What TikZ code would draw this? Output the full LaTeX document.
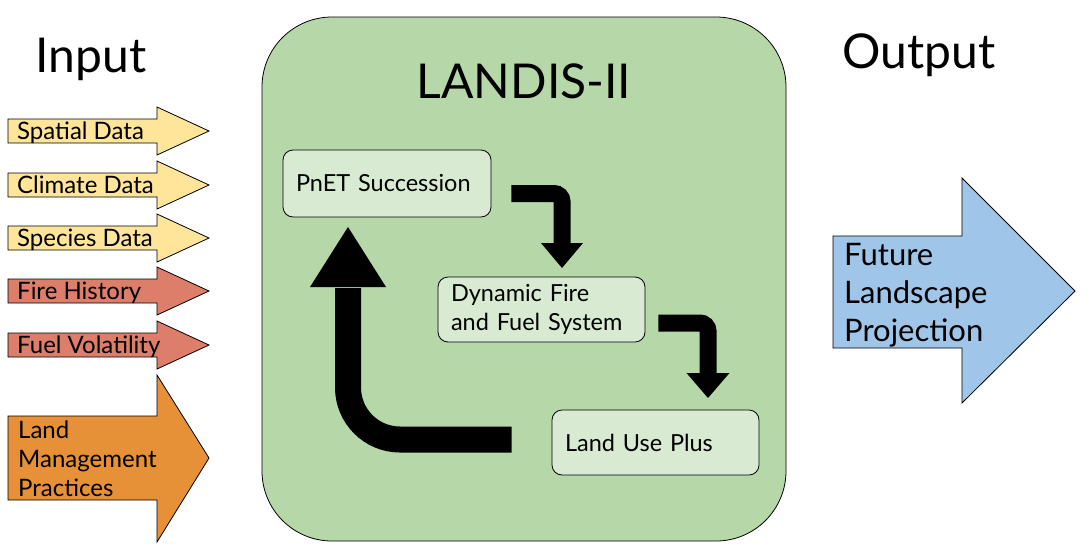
\documentclass[tikz,border=0pt]{standalone}
\usepackage{fontspec}
\setmainfont{Lato}
\usetikzlibrary{positioning}
\definecolor{datayellow}{HTML}{FFE599}
\definecolor{firered}{HTML}{DD7E6B}
\definecolor{mgmtorange}{HTML}{E69138}
\definecolor{outblue}{HTML}{9FC5E8}
\definecolor{modelgreen}{HTML}{B6D7A8}
\definecolor{boxgreen}{HTML}{D9EAD3}
\tikzset{
  title/.style={font=\fontsize{48}{58}\selectfont, inner sep=0pt},
  shaft/.style={draw=black, line width=0.8pt, line join=miter},
  inlabel/.style={font=\fontsize{24}{29}\selectfont, inner sep=0pt, align=left},
  module/.style={
    draw=black, line width=0.8pt, fill=boxgreen, rounded corners=10pt,
    minimum height=65pt, inner xsep=13pt,
    font=\fontsize{23.5}{29}\selectfont, align=left
  },
  flow/.style={line width=17pt, rounded corners=8pt},
}

\begin{document}
\begin{tikzpicture}[x=1pt,y=-1pt]
\newcommand{\inarrow}[4]{
  \filldraw [shaft,fill=#3] (8,#2-12) -- (157,#2-12) -- (157,#2-24) -- (209,#2)
    -- (157,#2+24) -- (157,#2+12) -- (8,#2+12) -- cycle;
  \node [inlabel,anchor=base west] (#1) at (17,#2+8) {#4};
}
\newcommand{\headdown}[3]{
  \fill (#1-#3,#2) -- (#1+#3,#2) -- (#1,#2+25) -- cycle;
}
\useasboundingbox (0,0) rectangle (1092,555);

% inputs
\node [title,anchor=base] (input) at (91,72) {Input};
\inarrow{spatial}{131}{datayellow}{Spatial Data}
\inarrow{climate}{185}{datayellow}{Climate Data}
\inarrow{species}{238}{datayellow}{Species Data}
\inarrow{fire}{291}{firered}{Fire History}
\inarrow{fuel}{345}{firered}{Fuel Volatility}
\filldraw [shaft,fill=mgmtorange] (8,416) -- (157,416) -- (157,375) -- (209,458)
  -- (157,542) -- (157,500) -- (8,500) -- cycle;
\node [inlabel,anchor=west] (mgmt) at (18,459) {Land\\Management\\Practices};

% model
\node [draw=black, line width=0.8pt, fill=modelgreen, rounded corners=70pt,
  minimum width=524pt, minimum height=524pt] (landis) at (524,279) {};
\node [title,anchor=base] (name) at (524,98) {LANDIS-II};
\node [module,minimum width=208pt,minimum height=67pt,text width=182pt]
  (pnet) at (387,183.5) {PnET Succession};
\node [module,minimum width=207pt,text width=181pt]
  (dfs) at (541.5,309.5) {Dynamic Fire\\and Fuel System};
\node [module,minimum width=207pt,text width=181pt]
  (luse) at (655.5,442.5) {Land Use Plus};

% cycle
\coordinate (f1) at ([shift={(20,10)}]pnet.east);
\coordinate (f2) at ([shift={(13,13.5)}]dfs.east);
\coordinate (f3) at ([shift={(-40,-3)}]luse.west);
\draw [flow] (f1) -| (562,244);
\headdown{562}{243}{21}
\draw [flow] (f2) -| (708,374);
\headdown{708}{373}{21.5}
\draw [flow,line width=26pt,rounded corners=52pt] (f3) -| (348,288);
\fill (310,287) -- (386,287) -- (348,227) -- cycle;

% output
\node [title,anchor=base] (output) at (919,68) {Output};
\filldraw [shaft,fill=outblue] (833,236) -- (962,236) -- (962,178) -- (1075,291)
  -- (962,403) -- (962,348) -- (833,348) -- cycle;
\node [inner sep=0pt,align=left,anchor=west,font=\fontsize{31}{38}\selectfont]
  (future) at (844,295) {Future\\Landscape\\Projection};
\end{tikzpicture}
\end{document}
